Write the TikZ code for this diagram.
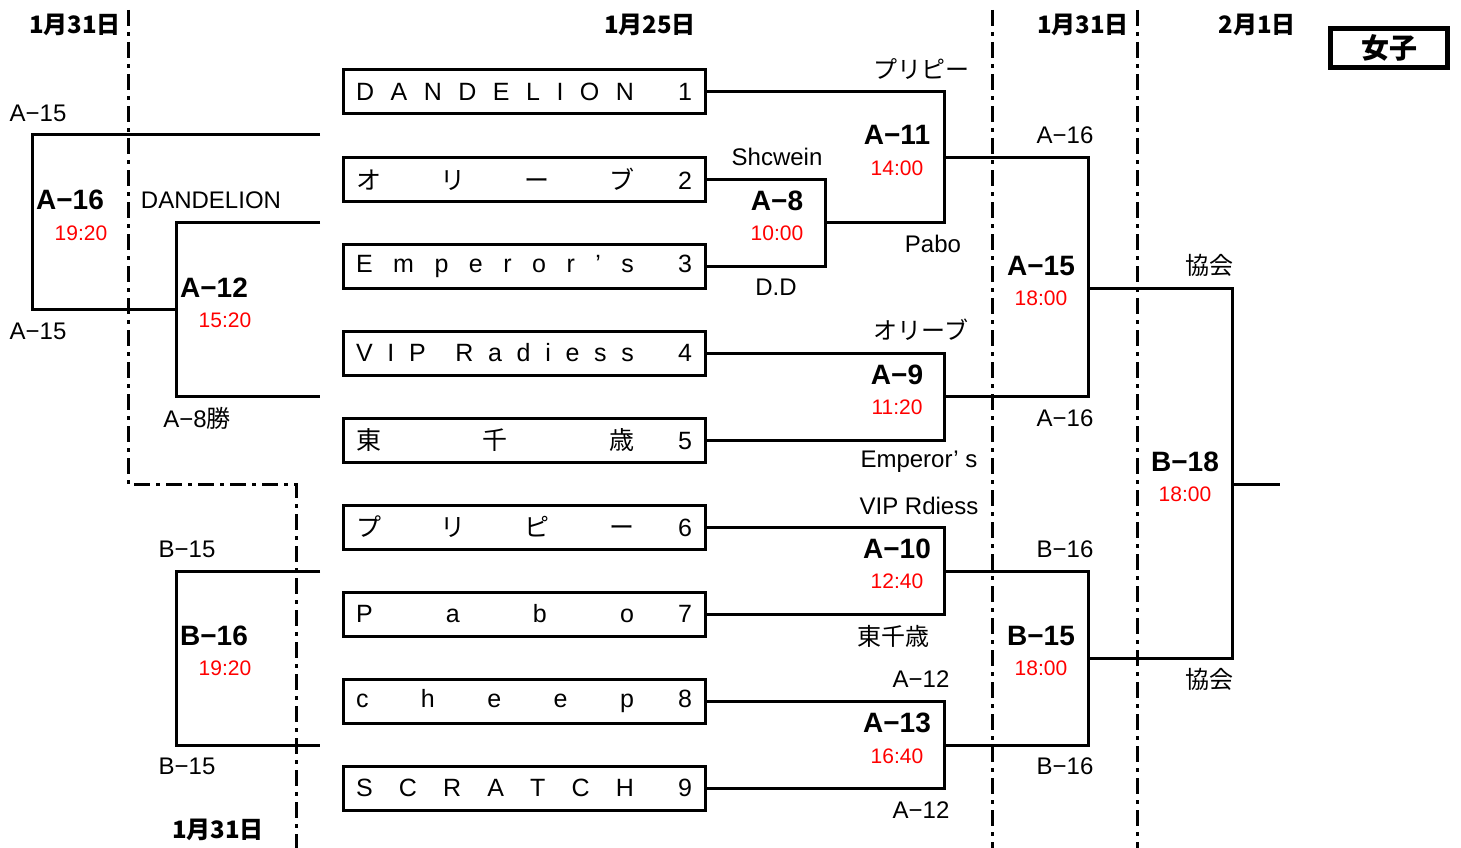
\documentclass[tikz,border=0pt]{standalone}
\usepackage{fontspec}
\setmainfont{Liberation Sans}
\newfontfamily\jp{Noto Sans CJK JP}
\usepackage{tikz}

% team name spread over a fixed width, seed number at the right
\newcommand{\teamname}[2]{\makebox[336pt][l]{\makebox[278pt][l]{#1}\hfill #2}\hspace{22pt}}

\begin{document}
\begin{tikzpicture}[x=1pt,y=-1pt,inner sep=0pt,every node/.style={font=\fontsize{24}{28}\selectfont}]
  % Styles
  \tikzset{teambox/.style={draw,line width=3pt,minimum width=362pt,minimum height=44pt,font=\fontsize{25}{29}\selectfont},
           bracket/.style={line width=3pt},
           dayline/.style={line width=3pt,dash pattern=on 16pt off 6pt on 4pt off 6pt},
           gameno/.style={font=\fontsize{28}{32}\selectfont\bfseries},
           gametime/.style={red,font=\fontsize{21}{25}\selectfont},
           datelbl/.style={font=\jp\bfseries\fontsize{24}{28}\selectfont}}

  \useasboundingbox (0,0) rectangle (1461,848);

  % Day separators
  \draw[dayline] (128,10) -- (128,484) -- (296,484) -- (296,848);
  \draw[dayline] (992,10) -- (992,848);
  \draw[dayline] (1137,10) -- (1137,848);

  % Dates and title
  \node[datelbl] (d1) at (75,25) {1月31日};
  \node[datelbl] (d2) at (650,25) {1月25日};
  \node[datelbl] (d3) at (1083,25) {1月31日};
  \node[datelbl] (d4) at (1257,25) {2月1日};
  \node[datelbl] (d5) at (218,830) {1月31日};
  \node[draw,line width=4.5pt,minimum width=117pt,minimum height=39pt,font=\jp\bfseries\fontsize{28}{32}\selectfont] (title) at (1389,48) {女子};

  % Teams
  \node[teambox] (t1) at (524,92) {\teamname{D\hfill A\hfill N\hfill D\hfill E\hfill L\hfill I\hfill O\hfill N}{1}};
  \node[teambox] (t2) at (524,179) {\teamname{\jp オ\hfill リ\hfill ー\hfill ブ}{2}};
  \node[teambox] (t3) at (524,266) {\teamname{E\hfill m\hfill p\hfill e\hfill r\hfill o\hfill r\hfill ’\hfill s}{3}};
  \node[teambox] (t4) at (524,353) {\teamname{V\hfill I\hfill P\hfill\hfill R\hfill a\hfill d\hfill i\hfill e\hfill s\hfill s}{4}};
  \node[teambox] (t5) at (524,440) {\teamname{\jp 東\hfill 千\hfill 歳}{5}};
  \node[teambox] (t6) at (524,527) {\teamname{\jp プ\hfill リ\hfill ピ\hfill ー}{6}};
  \node[teambox] (t7) at (524,614) {\teamname{P\hfill a\hfill b\hfill o}{7}};
  \node[teambox] (t8) at (524,701) {\teamname{c\hfill h\hfill e\hfill e\hfill p}{8}};
  \node[teambox] (t9) at (524,788) {\teamname{S\hfill C\hfill R\hfill A\hfill T\hfill C\hfill H}{9}};

  % Bracket joints
  \coordinate (m8) at (825,222);
  \coordinate (m11) at (944,157);
  \coordinate (m9) at (944,396);
  \coordinate (m10) at (944,571);
  \coordinate (m13) at (944,745);
  \coordinate (m15a) at (1088,288);
  \coordinate (m15b) at (1088,658);
  \coordinate (m18) at (1232,484);
  \coordinate (fin) at (1280,484);

  % Main bracket
  \draw[bracket] (t2.east) -| (m8) |- (t3.east);
  \draw[bracket] (t1.east) -| (m11) |- (m8);
  \draw[bracket] (t4.east) -| (m9) |- (t5.east);
  \draw[bracket] (t6.east) -| (m10) |- (t7.east);
  \draw[bracket] (t8.east) -| (m13) |- (t9.east);
  \draw[bracket] (m11) -| (m15a) |- (m9);
  \draw[bracket] (m10) -| (m15b) |- (m13);
  \draw[bracket] (m15a) -| (m18) |- (m15b);
  \draw[bracket] (m18) -- (fin);

  % Left side (1/31 games)
  \coordinate (l1) at (320,135);
  \coordinate (l2) at (320,222);
  \coordinate (l3) at (320,396);
  \coordinate (l4) at (320,571);
  \coordinate (l5) at (320,745);
  \coordinate (m16) at (32,222);
  \coordinate (m12) at (176,309);
  \coordinate (mb16) at (176,658);
  \draw[bracket] (l2) -| (m12) |- (l3);
  \draw[bracket] (l1) -| (m16) |- (m12);
  \draw[bracket] (l4) -| (mb16) |- (l5);

  % Game numbers and times
  \node[gameno] (g16) at (70,200) {A−16};
  \node[gametime] (g16t) at (81,233) {19:20};
  \node[gameno] (g12) at (214,288) {A−12};
  \node[gametime] (g12t) at (225,320) {15:20};
  \node[gameno] (gb16) at (214,636) {B−16};
  \node[gametime] (gb16t) at (225,668) {19:20};
  \node[gameno] (g8) at (777,201) {A−8};
  \node[gametime] (g8t) at (777,233) {10:00};
  \node[gameno] (g11) at (897,135) {A−11};
  \node[gametime] (g11t) at (897,168) {14:00};
  \node[gameno] (g9) at (897,375) {A−9};
  \node[gametime] (g9t) at (897,407) {11:20};
  \node[gameno] (g10) at (897,549) {A−10};
  \node[gametime] (g10t) at (897,581) {12:40};
  \node[gameno] (g13) at (897,723) {A−13};
  \node[gametime] (g13t) at (897,756) {16:40};
  \node[gameno] (g15) at (1041,266) {A−15};
  \node[gametime] (g15t) at (1041,298) {18:00};
  \node[gameno] (gb15) at (1041,636) {B−15};
  \node[gametime] (gb15t) at (1041,668) {18:00};
  \node[gameno] (gb18) at (1185,462) {B−18};
  \node[gametime] (gb18t) at (1185,494) {18:00};

  % Side labels
  \node (s1) at (38,113) {A−15};
  \node (s2) at (38,331) {A−15};
  \node (s3) at (211,200) {DANDELION};
  \node (s4) at (197,418) {A−8{\jp 勝}};
  \node (s5) at (187,549) {B−15};
  \node (s6) at (187,766) {B−15};
  \node (s7) at (921,69) {\jp プリピー};
  \node (s8) at (777,157) {Shcwein};
  \node (s9) at (933,244) {Pabo};
  \node (s10) at (776,287) {D.D};
  \node (s11) at (921,330) {\jp オリーブ};
  \node (s12) at (919,462) {Emperor’ s};
  \node (s13) at (919,506) {VIP Rdiess};
  \node (s14) at (893,636) {\jp 東千歳};
  \node (s15) at (921,679) {A−12};
  \node (s16) at (921,810) {A−12};
  \node (s17) at (1065,135) {A−16};
  \node (s18) at (1065,418) {A−16};
  \node (s19) at (1065,549) {B−16};
  \node (s20) at (1065,766) {B−16};
  \node (s21) at (1209,265) {\jp 協会};
  \node (s22) at (1209,679) {\jp 協会};
\end{tikzpicture}
\end{document}
